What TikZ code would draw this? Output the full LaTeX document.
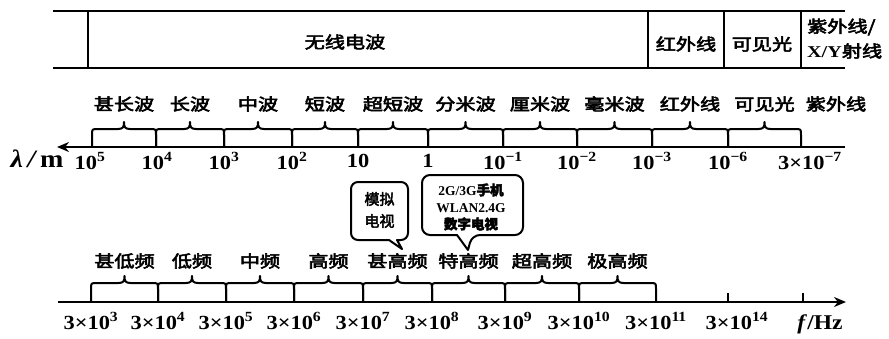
\documentclass[tikz,border=0pt]{standalone}
\usepackage{fontspec}
\usepackage{graphicx}
\setmainfont{Liberation Serif}
\newfontfamily\cjk{Noto Sans CJK SC}[FakeBold=3]
\usetikzlibrary{arrows.meta}
\newcommand\hs[1]{\scalebox{1.22}[1]{#1}}
\newcommand\hn[1]{\scalebox{1.12}[1]{#1}}
\tikzset{
  lbl/.style={inner sep=0pt, font=\cjk\fontsize{16.5}{17}\selectfont},
  num/.style={inner sep=0pt, font=\bfseries\fontsize{20}{20}\selectfont},
  ax/.style={line width=2.2pt},
  frame/.style={line width=2.4pt},
  brc/.style={line width=2pt, line join=round},
  bub/.style={line width=2pt, line join=round, fill=white},
  bubtxt/.style={inner sep=0pt, align=center},
}
\begin{document}
\begin{tikzpicture}[x=1pt,y=-1pt]
\useasboundingbox (0,0) rectangle (889,338);
% ---------- top band ----------
\coordinate (tl) at (53,11); \coordinate (tr) at (845,11);
\coordinate (bl) at (53,68); \coordinate (br) at (845,68);
\draw[frame] (tl) -- (tr);
\draw[frame] (bl) -- (br);
\foreach \x [count=\i] in {88,648,724,801} {
  \coordinate (vt\i) at (\x,11); \coordinate (vb\i) at (\x,68);
  \draw[frame] (vt\i) -- (vb\i);
}
\node[lbl] (radio) at (345,42) {\hs{无线电波}};
\node[lbl] (ir) at (686,44) {\hs{红外线}};
\node[lbl] (vis) at (762,44) {\hs{可见光}};
\node[lbl, anchor=west] (uv1) at (807,27) {\hs{紫外线/}};
\node[lbl, anchor=west] (uv2) at (807,51) {\hs{{\bfseries\rmfamily X/Y}射线}};
% ---------- wavelength axis ----------
\coordinate (wr) at (845,147); \coordinate (wl) at (57,147);
\draw[ax, -{Stealth[length=12pt,width=10pt]}] (wr) -- (wl);
\node[font=\bfseries\itshape\fontsize{25}{25}\selectfont, inner sep=0pt] (lam) at (37,159) {\hn{λ\,/\,\upshape m}};
\foreach \a/\b/\t [count=\i] in {92/156/甚长波,156/224/长波,224/292/中波,292/358/短波,358/428/超短波,428/503/分米波,503/577/厘米波,577/652/毫米波,652/728/红外线,728/801/可见光} {
  \pgfmathsetmacro\m{(\a+\b)/2}
  \draw[brc] (\a,147) -- (\a,135) .. controls (\a,129) .. (\a+6,129) -- (\m-6,129)
     .. controls (\m-1,129) and (\m,127) .. (\m,122)
     .. controls (\m,127) and (\m+1,129) .. (\m+6,129) -- (\b-6,129)
     .. controls (\b,129) .. (\b,135) -- (\b,147);
  \node[lbl] (wn\i) at (\m,104) {\hs{\t}};
}
\node[lbl] (wn11) at (836,104) {\hs{紫外线}};
\foreach \x/\t [count=\i] in {90/10\textsuperscript{5},157/10\textsuperscript{4},224/10\textsuperscript{3},292/10\textsuperscript{2},358/10,428/1,503/10\textsuperscript{−1},577/10\textsuperscript{−2},652/10\textsuperscript{−3},728/10\textsuperscript{−6},810/3×10\textsuperscript{−7}} {
  \node[num] (wv\i) at (\x,161) {\hn{\t}};
}
% ---------- bubbles ----------
\draw[bub] (351,211) [rounded corners=7pt] -- (351,182) -- (408,182) -- (408,240) [sharp corners] -- (397,240) -- (402,249) -- (389,240) [rounded corners=7pt] -- (351,240) -- cycle;
\node[bubtxt, font=\cjk\fontsize{15}{22}\selectfont] (tv) at (379.5,210) {模拟\\电视};
\draw[bub] (422,205) [rounded corners=8pt] -- (422,175) -- (523,175) -- (523,235) -- (472,235) [sharp corners] -- (468,250) -- (457,235) [rounded corners=8pt] -- (422,235) -- cycle;
\node[bubtxt, font=\bfseries\fontsize{13.5}{17}\selectfont] (mob) at (471,207) {2G/3G{\cjk 手机}\\WLAN2.4G\\{\cjk 数字电视}};
% ---------- frequency axis ----------
\coordinate (fl) at (58,302); \coordinate (fr) at (846,302);
\draw[ax, -{Stealth[length=12pt,width=10pt]}] (fl) -- (fr);
\foreach \a/\b/\t [count=\i] in {91/158/甚低频,158/226/低频,226/294/中频,294/363/高频,363/432/甚高频,432/505/特高频,505/579/超高频,579/656/极高频} {
  \pgfmathsetmacro\m{(\a+\b)/2}
  \draw[brc] (\a,302) -- (\a,289) .. controls (\a,283) .. (\a+6,283) -- (\m-6,283)
     .. controls (\m-1,283) and (\m,281) .. (\m,276)
     .. controls (\m,281) and (\m+1,283) .. (\m+6,283) -- (\b-6,283)
     .. controls (\b,283) .. (\b,289) -- (\b,302);
  \node[lbl] (fn\i) at (\m,261) {\hs{\t}};
}
\foreach \x [count=\i] in {728,803} {
  \coordinate (tk\i) at (\x,302); \coordinate (tt\i) at (\x,293);
  \draw[brc] (tk\i) -- (tt\i);
}
\foreach \x/\e [count=\i] in {91/3,158/4,226/5,294/6,363/7,432/8,505/9,579/10,656/11,737/14} {
  \node[num] (fv\i) at (\x,321) {\hn{3×10\textsuperscript{\e}}};
}
\node[num, font=\bfseries\fontsize{21}{21}\selectfont] (fhz) at (820,324) {\hn{\textit{f}/Hz}};
\end{tikzpicture}
\end{document}
